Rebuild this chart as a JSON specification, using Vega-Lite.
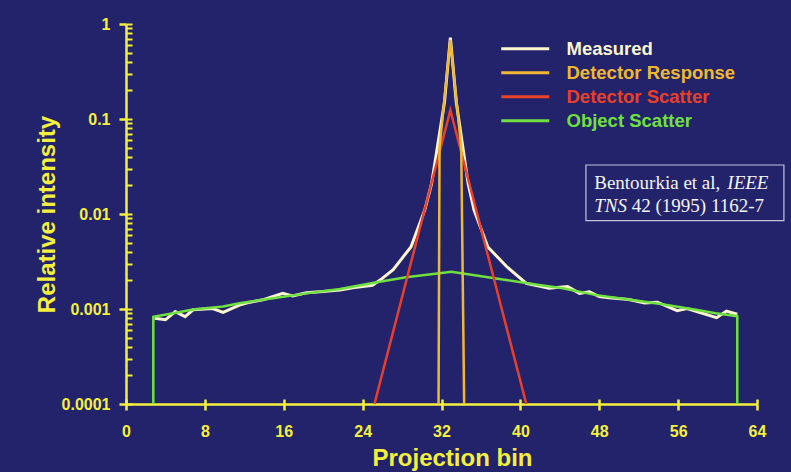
{
  "$schema": "https://vega.github.io/schema/vega-lite/v6.json",
  "width": 631,
  "height": 380,
  "autosize": {"type": "none"},
  "padding": {"left": 126, "top": 24, "right": 34, "bottom": 68},
  "background": "#23236b",
  "config": {
    "view": {"stroke": null},
    "axis": {
      "grid": false,
      "labelFlush": false,
      "domainColor": "#f4f03e",
      "tickColor": "#f4f03e",
      "labelColor": "#f4f03e",
      "titleColor": "#f4f03e",
      "labelFont": "Liberation Sans",
      "titleFont": "Liberation Sans",
      "labelFontWeight": "bold",
      "titleFontWeight": "bold",
      "labelFontSize": 16,
      "titleFontSize": 24,
      "domainWidth": 2.5,
      "tickWidth": 2.5
    }
  },
  "data": {
    "values": [
      {"s": "Measured", "i": 1, "x": 2.9, "y": 0.0008},
      {"s": "Measured", "i": 2, "x": 4, "y": 0.00077},
      {"s": "Measured", "i": 3, "x": 5, "y": 0.00094},
      {"s": "Measured", "i": 4, "x": 6, "y": 0.00083},
      {"s": "Measured", "i": 5, "x": 6.8, "y": 0.00098},
      {"s": "Measured", "i": 6, "x": 8.8, "y": 0.00101},
      {"s": "Measured", "i": 7, "x": 9.85, "y": 0.00092},
      {"s": "Measured", "i": 8, "x": 11.5, "y": 0.0011},
      {"s": "Measured", "i": 9, "x": 12.6, "y": 0.00118},
      {"s": "Measured", "i": 10, "x": 14, "y": 0.00126},
      {"s": "Measured", "i": 11, "x": 15.9, "y": 0.00146},
      {"s": "Measured", "i": 12, "x": 16.9, "y": 0.00137},
      {"s": "Measured", "i": 13, "x": 18.3, "y": 0.00148},
      {"s": "Measured", "i": 14, "x": 20, "y": 0.00153},
      {"s": "Measured", "i": 15, "x": 21.7, "y": 0.00158},
      {"s": "Measured", "i": 16, "x": 23, "y": 0.00167},
      {"s": "Measured", "i": 17, "x": 25, "y": 0.00178},
      {"s": "Measured", "i": 18, "x": 26, "y": 0.0021},
      {"s": "Measured", "i": 19, "x": 27.1, "y": 0.0026},
      {"s": "Measured", "i": 20, "x": 28.9, "y": 0.0045},
      {"s": "Measured", "i": 21, "x": 30.3, "y": 0.011},
      {"s": "Measured", "i": 22, "x": 31, "y": 0.021},
      {"s": "Measured", "i": 23, "x": 32.3, "y": 0.15},
      {"s": "Measured", "i": 24, "x": 32.9, "y": 0.72},
      {"s": "Measured", "i": 25, "x": 33.5, "y": 0.15},
      {"s": "Measured", "i": 26, "x": 34.7, "y": 0.021},
      {"s": "Measured", "i": 27, "x": 35.3, "y": 0.011},
      {"s": "Measured", "i": 28, "x": 36.7, "y": 0.0045},
      {"s": "Measured", "i": 29, "x": 38.6, "y": 0.0028},
      {"s": "Measured", "i": 30, "x": 40.6, "y": 0.00186},
      {"s": "Measured", "i": 31, "x": 42.9, "y": 0.00165},
      {"s": "Measured", "i": 32, "x": 44.8, "y": 0.00172},
      {"s": "Measured", "i": 33, "x": 46, "y": 0.00146},
      {"s": "Measured", "i": 34, "x": 47, "y": 0.00152},
      {"s": "Measured", "i": 35, "x": 48, "y": 0.00135},
      {"s": "Measured", "i": 36, "x": 49, "y": 0.00131},
      {"s": "Measured", "i": 37, "x": 51, "y": 0.00126},
      {"s": "Measured", "i": 38, "x": 52.6, "y": 0.00116},
      {"s": "Measured", "i": 39, "x": 53.9, "y": 0.00118},
      {"s": "Measured", "i": 40, "x": 55.9, "y": 0.00096},
      {"s": "Measured", "i": 41, "x": 56.9, "y": 0.00101},
      {"s": "Measured", "i": 42, "x": 59.9, "y": 0.00081},
      {"s": "Measured", "i": 43, "x": 60.9, "y": 0.00095},
      {"s": "Measured", "i": 44, "x": 62, "y": 0.00088},
      {"s": "Object Scatter", "i": 1, "x": 2.77, "y": 0.0001},
      {"s": "Object Scatter", "i": 2, "x": 2.77, "y": 0.00083},
      {"s": "Object Scatter", "i": 3, "x": 4.8, "y": 0.0009},
      {"s": "Object Scatter", "i": 4, "x": 6.8, "y": 0.00099},
      {"s": "Object Scatter", "i": 5, "x": 9.85, "y": 0.00106},
      {"s": "Object Scatter", "i": 6, "x": 11.5, "y": 0.00115},
      {"s": "Object Scatter", "i": 7, "x": 14.9, "y": 0.0013},
      {"s": "Object Scatter", "i": 8, "x": 18.3, "y": 0.00146},
      {"s": "Object Scatter", "i": 9, "x": 21.7, "y": 0.00162},
      {"s": "Object Scatter", "i": 10, "x": 25, "y": 0.00188},
      {"s": "Object Scatter", "i": 11, "x": 28.4, "y": 0.00216},
      {"s": "Object Scatter", "i": 12, "x": 31.8, "y": 0.00238},
      {"s": "Object Scatter", "i": 13, "x": 33, "y": 0.00247},
      {"s": "Object Scatter", "i": 14, "x": 35.2, "y": 0.00228},
      {"s": "Object Scatter", "i": 15, "x": 38.55, "y": 0.00202},
      {"s": "Object Scatter", "i": 16, "x": 41.9, "y": 0.00179},
      {"s": "Object Scatter", "i": 17, "x": 44.3, "y": 0.00165},
      {"s": "Object Scatter", "i": 18, "x": 47.7, "y": 0.0014},
      {"s": "Object Scatter", "i": 19, "x": 51, "y": 0.00126},
      {"s": "Object Scatter", "i": 20, "x": 54.4, "y": 0.00112},
      {"s": "Object Scatter", "i": 21, "x": 57.8, "y": 0.00098},
      {"s": "Object Scatter", "i": 22, "x": 59.8, "y": 0.0009},
      {"s": "Object Scatter", "i": 23, "x": 62, "y": 0.00084},
      {"s": "Object Scatter", "i": 24, "x": 62, "y": 0.0001},
      {"s": "Detector Scatter", "i": 1, "x": 25.2, "y": 0.0001},
      {"s": "Detector Scatter", "i": 2, "x": 32.9, "y": 0.124},
      {"s": "Detector Scatter", "i": 3, "x": 40.6, "y": 0.0001},
      {"s": "Detector Response", "i": 1, "x": 31.7, "y": 0.0001},
      {"s": "Detector Response", "i": 2, "x": 31.8, "y": 0.05},
      {"s": "Detector Response", "i": 3, "x": 32.9, "y": 0.68},
      {"s": "Detector Response", "i": 4, "x": 34.0, "y": 0.05},
      {"s": "Detector Response", "i": 5, "x": 34.3, "y": 0.0001}
    ]
  },
  "resolve": {"axis": {"x": "independent", "y": "independent"}},
  "layer": [
    {
      "transform": [{"filter": "datum.s === 'Measured'"}],
      "mark": {"type": "line", "strokeWidth": 3},
      "encoding": {
        "x": {
          "field": "x", "type": "quantitative",
          "scale": {"domain": [0, 64], "nice": false, "zero": false},
          "axis": {
            "values": [0, 8, 16, 24, 32, 40, 48, 56, 64],
            "tickSize": 6, "labelPadding": 13,
            "title": "Projection bin",
            "titleX": 326, "titleY": 54, "titleBaseline": "middle", "titleAlign": "center"
          }
        },
        "y": {
          "field": "y", "type": "quantitative",
          "scale": {"type": "log", "domain": [0.0001, 1], "nice": false},
          "axis": {
            "values": [0.0001, 0.001, 0.01, 0.1, 1],
            "format": "~g",
            "tickSize": 7, "labelPadding": 9,
            "title": "Relative intensity",
            "titleX": -79, "titleY": 190, "titleAngle": 270,
            "titleBaseline": "middle", "titleAlign": "center"
          }
        },
        "color": {
          "field": "s", "type": "nominal",
          "scale": {
            "domain": ["Measured", "Detector Response", "Detector Scatter", "Object Scatter"],
            "range": ["#fbf6d0", "#f0b830", "#e8402a", "#70e040"]
          },
          "legend": {
            "title": null,
            "orient": "none",
            "legendX": 390,
            "legendY": 15.5,
            "padding": 0,
            "symbolType": "M-4,0H4",
            "symbolSize": 144,
            "symbolStrokeWidth": 3,
            "labelOffset": 32,
            "labelFontSize": 18.5,
            "labelFont": "Liberation Sans",
            "labelFontWeight": "bold",
            "labelLimit": 300,
            "rowPadding": 5,
            "encode": {"labels": {"update": {"fill": {"scale": "color", "field": "value"}}}}
          }
        },
        "order": {"field": "i", "type": "quantitative"}
      }
    },
    {
      "transform": [{"filter": "datum.s === 'Object Scatter'"}],
      "mark": {"type": "line", "strokeWidth": 2.5},
      "encoding": {
        "x": {
          "field": "x", "type": "quantitative",
          "axis": {"orient": "bottom", "offset": -5, "values": [0, 8, 16, 24, 32, 40, 48, 56, 64], "tickSize": 5, "labels": false, "domain": false, "title": null}
        },
        "y": {
          "field": "y", "type": "quantitative",
          "axis": {
            "orient": "left", "offset": -6, "tickSize": 6, "tickWidth": 2, "labels": false, "domain": false, "title": null,
            "values": [0.0001, 0.0002, 0.0003, 0.0004, 0.0005, 0.0006, 0.0007, 0.0008, 0.0009,
                       0.001, 0.002, 0.003, 0.004, 0.005, 0.006, 0.007, 0.008, 0.009,
                       0.01, 0.02, 0.03, 0.04, 0.05, 0.06, 0.07, 0.08, 0.09,
                       0.1, 0.2, 0.3, 0.4, 0.5, 0.6, 0.7, 0.8, 0.9, 1]
          }
        },
        "color": {"field": "s", "type": "nominal"},
        "order": {"field": "i", "type": "quantitative"}
      }
    },
    {
      "transform": [{"filter": "datum.s === 'Detector Scatter'"}],
      "mark": {"type": "line", "strokeWidth": 2.5},
      "encoding": {
        "x": {"field": "x", "type": "quantitative", "axis": null},
        "y": {"field": "y", "type": "quantitative", "axis": null},
        "color": {"field": "s", "type": "nominal"},
        "order": {"field": "i", "type": "quantitative"}
      }
    },
    {
      "transform": [{"filter": "datum.s === 'Detector Response'"}],
      "mark": {"type": "line", "strokeWidth": 2.5},
      "encoding": {
        "x": {"field": "x", "type": "quantitative", "axis": null},
        "y": {"field": "y", "type": "quantitative", "axis": null},
        "color": {"field": "s", "type": "nominal"},
        "order": {"field": "i", "type": "quantitative"}
      }
    },
    {
      "data": {"values": [{"t": "box"}]},
      "mark": {"type": "rect", "filled": false, "stroke": "#c4c4dc", "strokeWidth": 1.2},
      "encoding": {
        "x": {"datum": 46.65, "type": "quantitative", "axis": null},
        "x2": {"datum": 66.73},
        "y": {"datum": 0.0328, "type": "quantitative", "axis": null},
        "y2": {"datum": 0.0085}
      }
    },
    {
      "data": {"values": [{"t": "Bentourkia et al,"}]},
      "mark": {"type": "text", "align": "left", "baseline": "middle", "font": "Liberation Serif", "fontSize": 19, "color": "#f4f4f4"},
      "encoding": {
        "x": {"datum": 47.49, "type": "quantitative", "axis": null},
        "y": {"datum": 0.0214, "type": "quantitative", "axis": null},
        "text": {"field": "t"}
      }
    },
    {
      "data": {"values": [{"t": "IEEE"}]},
      "mark": {"type": "text", "align": "left", "baseline": "middle", "font": "Liberation Serif", "fontStyle": "italic", "fontSize": 19, "color": "#f4f4f4"},
      "encoding": {
        "x": {"datum": 60.99, "type": "quantitative", "axis": null},
        "y": {"datum": 0.0214, "type": "quantitative", "axis": null},
        "text": {"field": "t"}
      }
    },
    {
      "data": {"values": [{"t": "TNS"}]},
      "mark": {"type": "text", "align": "left", "baseline": "middle", "font": "Liberation Serif", "fontStyle": "italic", "fontSize": 19, "color": "#f4f4f4"},
      "encoding": {
        "x": {"datum": 47.49, "type": "quantitative", "axis": null},
        "y": {"datum": 0.01214, "type": "quantitative", "axis": null},
        "text": {"field": "t"}
      }
    },
    {
      "data": {"values": [{"t": "42 (1995) 1162-7"}]},
      "mark": {"type": "text", "align": "left", "baseline": "middle", "font": "Liberation Serif", "fontSize": 19, "color": "#f4f4f4"},
      "encoding": {
        "x": {"datum": 51.3, "type": "quantitative", "axis": null},
        "y": {"datum": 0.01214, "type": "quantitative", "axis": null},
        "text": {"field": "t"}
      }
    }
  ]
}
